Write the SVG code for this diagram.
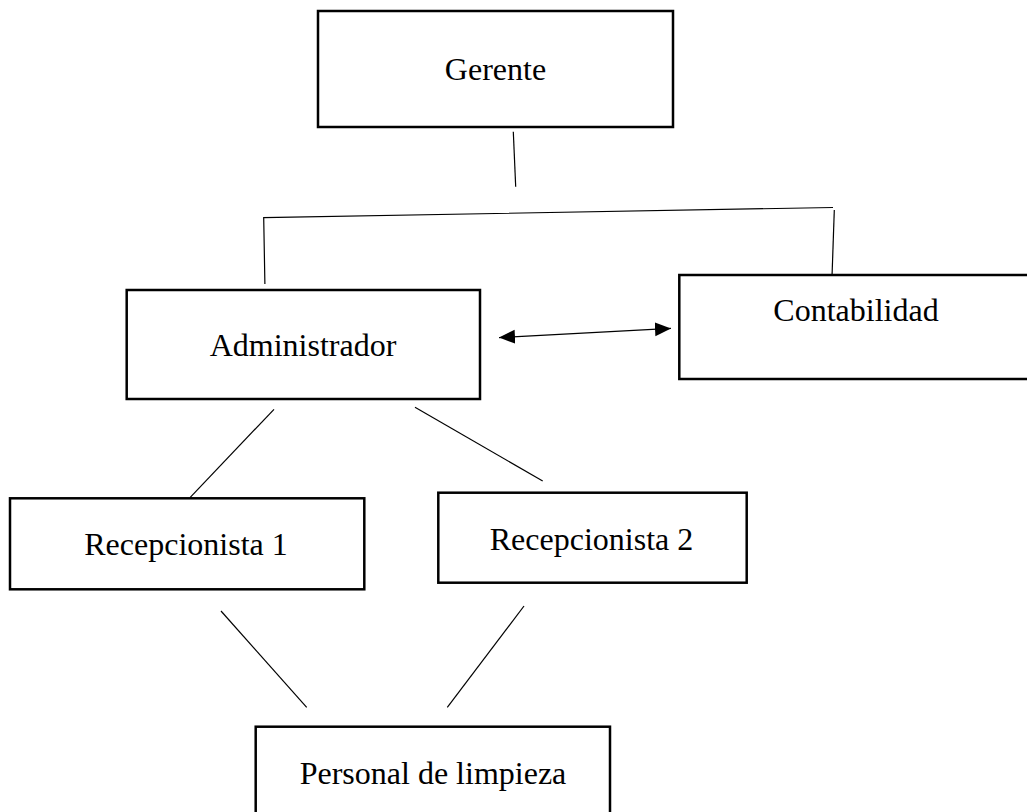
<svg xmlns="http://www.w3.org/2000/svg" width="1027" height="812" viewBox="0 0 1027 812">
<style>
.box{fill:#fff;stroke:#000;stroke-width:2.5}
.lbl{font-family:"Liberation Serif","Times New Roman",serif;font-size:32px;fill:#000;text-anchor:middle}
.ln{stroke:#000;stroke-width:1.2;fill:none}
</style>
<defs>
<marker id="ah" markerUnits="userSpaceOnUse" markerWidth="18" markerHeight="16" refX="16" refY="7" orient="auto-start-reverse">
<path d="M0,0 L16,7 L0,14 Z" fill="#000"/>
</marker>
</defs>
<rect width="1027" height="812" fill="#fff"/>
<g id="connectors">
<line class="ln" x1="513.3" y1="131.7" x2="515.7" y2="186.7"/>
<polyline class="ln" points="264.9,284 263.7,217.6 833,207.5"/>
<line class="ln" x1="834.3" y1="210" x2="832" y2="277"/>
<line class="ln" x1="499" y1="337.6" x2="671" y2="328.4" marker-start="url(#ah)" marker-end="url(#ah)"/>
<line class="ln" x1="274" y1="409.3" x2="190" y2="497.7"/>
<line class="ln" x1="415" y1="407.3" x2="542.7" y2="481"/>
<line class="ln" x1="221" y1="611" x2="306.7" y2="707.3"/>
<line class="ln" x1="524" y1="606" x2="447.3" y2="707.3"/>
</g>
<g id="gerente">
<rect class="box" x="318" y="11" width="355" height="116"/>
<text class="lbl" x="495.5" y="80">Gerente</text>
</g>
<g id="administrador">
<rect class="box" x="126.7" y="290" width="353.3" height="109"/>
<text class="lbl" x="303" y="356">Administrador</text>
</g>
<g id="contabilidad">
<rect class="box" x="679.3" y="275" width="360" height="104"/>
<text class="lbl" x="856" y="321">Contabilidad</text>
</g>
<g id="recepcionista1">
<rect class="box" x="10" y="498.3" width="354.3" height="91"/>
<text class="lbl" x="186" y="555">Recepcionista 1</text>
</g>
<g id="recepcionista2">
<rect class="box" x="438.3" y="492.7" width="308.4" height="90"/>
<text class="lbl" x="591.5" y="550">Recepcionista 2</text>
</g>
<g id="personal">
<rect class="box" x="255.7" y="726.7" width="354.3" height="100"/>
<text class="lbl" x="433" y="784">Personal de limpieza</text>
</g>
</svg>
